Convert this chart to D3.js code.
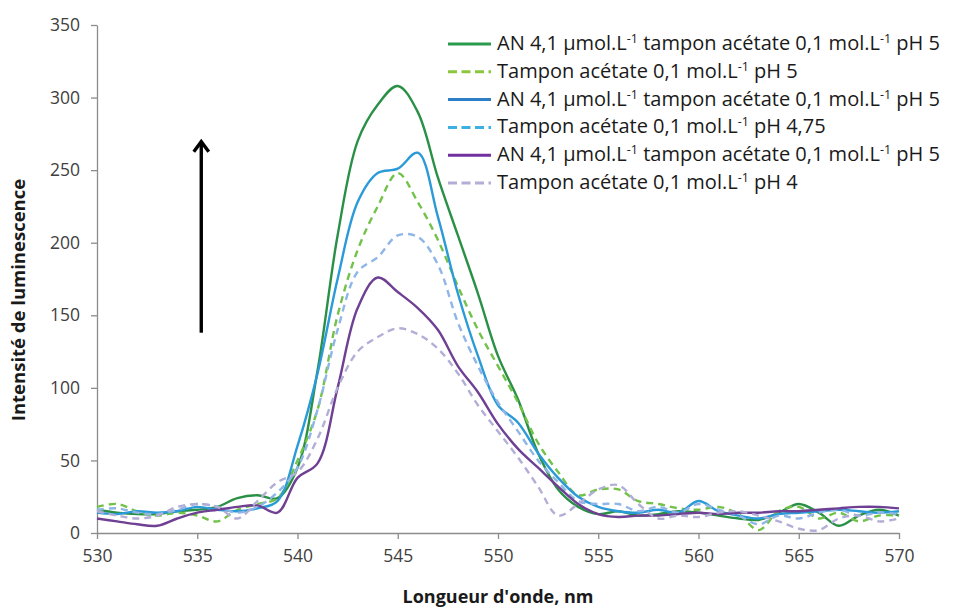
<!DOCTYPE html>
<html><head><meta charset="utf-8">
<script src="https://cdn.jsdelivr.net/npm/d3@7"></script>
<style>
body{margin:0;background:#fff;}
svg{display:block;}
</style></head>
<body>
<svg id="chart" width="964" height="608"></svg>
<script>
const wavelengths = d3.range(530, 571, 1);
const yTicks = [0, 50, 100, 150, 200, 250, 300, 350];
const xTicks = [530, 535, 540, 545, 550, 555, 560, 565, 570];

const anPH5 = [16,14,13,13,15,16,18,24,26,24, 45,112,205,270,295,308,290,245,205,165, 122,92,55,30,18,13,15,12,13,15, 14,12,10,9,14,20,14,5,12,16,12];
const bufPH5 = [18,20,15,12,14,12,8,16,20,24, 50,85,150,195,225,248,228,202,170,140, 115,90,62,42,26,30,30,22,20,17, 16,18,13,2,15,18,10,14,8,12,12];
const anPH475 = [14,13,15,14,15,18,16,15,17,22, 60,110,175,228,248,251,262,218,165,122, 88,76,55,38,25,18,15,14,16,14, 22,15,12,10,13,14,15,16,15,14,15];
const bufPH475 = [16,17,14,13,16,20,18,14,18,28, 45,85,140,180,190,205,204,185,145,115, 90,70,50,35,22,20,20,15,18,14, 20,16,12,6,12,10,14,16,12,14,13];
const anPH4 = [10,8,6,5,10,14,16,18,19,14, 38,48,100,155,176,166,155,140,115,97, 75,58,45,32,20,13,11,12,12,13, 14,13,14,14,15,15,16,17,18,18,17];
const bufPH4 = [15,12,10,12,18,20,18,10,22,35, 42,65,100,125,135,141,137,127,110,88, 70,52,32,12,20,30,33,20,10,12, 11,14,15,12,8,3,2,10,12,8,10];

const seriesNames = [
  "AN 4,1 µmol.L|-1| tampon acétate 0,1 mol.L|-1| pH 5",
  "Tampon acétate 0,1 mol.L|-1| pH 5",
  "AN 4,1 µmol.L|-1| tampon acétate 0,1 mol.L|-1| pH 5",
  "Tampon acétate 0,1 mol.L|-1| pH 4,75",
  "AN 4,1 µmol.L|-1| tampon acétate 0,1 mol.L|-1| pH 5",
  "Tampon acétate 0,1 mol.L|-1| pH 4"
];
const seriesValues = [anPH5, bufPH5, anPH475, bufPH475, anPH4, bufPH4];
const seriesColors = ["#2a9046", "#72c24a", "#2b9ad8", "#8fb6e6", "#6e3f93", "#b3aed6"];
const legendColors = ["#2a9a4c", "#8cc63f", "#2e7ec8", "#3cb0e0", "#7030a0", "#b3aed6"];
const seriesDashed = [false, true, false, true, false, true];

const arrowX = 535.2, arrowFrom = 138, arrowTo = 271;

(function () {
const svg = d3.select("#chart");
const mLeft = 97, mRight = 899, mTop = 25, mBottom = 533;
const x = d3.scaleLinear().domain([530, 570]).range([mLeft, mRight]);
const y = d3.scaleLinear().domain([0, 350]).range([mBottom, mTop]);
const font = "'Open Sans', sans-serif";
const axisColor = "#8c8c8c";

const yAxis = svg.append("g").attr("transform", `translate(${mLeft},0)`)
  .call(d3.axisLeft(y).tickValues(yTicks).tickSize(6).tickPadding(11).tickSizeOuter(0));
const xAxis = svg.append("g").attr("transform", `translate(0,${mBottom})`)
  .call(d3.axisBottom(x).tickValues(xTicks).tickSize(6).tickPadding(11).tickSizeOuter(0));
[yAxis, xAxis].forEach(g => {
  g.select(".domain").attr("stroke", axisColor).attr("stroke-width", 1.3);
  g.selectAll(".tick line").attr("stroke", axisColor).attr("stroke-width", 1.3);
  g.selectAll(".tick text").attr("fill", "#404040").style("font-family", font).style("font-size", "17.5px");
});

const line = d3.line().x((d, i) => x(wavelengths[i])).y(d => y(d)).curve(d3.curveCatmullRom.alpha(0.5));
const data = seriesValues.map((v, i) => ({v, color: seriesColors[i], lcolor: legendColors[i], dashed: seriesDashed[i], name: seriesNames[i]}));
svg.append("g").selectAll("path").data(data).join("path")
  .attr("d", d => line(d.v))
  .attr("fill", "none")
  .attr("stroke", d => d.color)
  .attr("stroke-width", 2.4)
  .attr("stroke-dasharray", d => d.dashed ? "7,5" : null)
  .attr("stroke-linejoin", "round");

// arrow
const ax = x(arrowX), tipY = y(arrowTo);
svg.append("line")
  .attr("x1", ax).attr("x2", ax)
  .attr("y1", y(arrowFrom)).attr("y2", tipY + 2)
  .attr("stroke", "#000").attr("stroke-width", 3.4);
svg.append("path")
  .attr("d", `M${ax - 7.5},${tipY + 12} L${ax},${tipY + 2} L${ax + 7.5},${tipY + 12}`)
  .attr("fill", "none").attr("stroke", "#000").attr("stroke-width", 3.4)
  .attr("stroke-linejoin", "miter");

svg.append("text").attr("transform", `translate(25,300) rotate(-90)`)
  .attr("text-anchor", "middle").style("font-family", font).style("font-size", "18.5px")
  .style("font-weight", "bold").attr("fill", "#1a1a1a").text("Intensité de luminescence");
svg.append("text").attr("x", 498).attr("y", 603)
  .attr("text-anchor", "middle").style("font-family", font).style("font-size", "18px")
  .style("font-weight", "bold").attr("fill", "#1a1a1a").text("Longueur d'onde, nm");

const leg = svg.append("g");
const rowY = i => 44 + i * 27.8;
data.forEach((d, i) => {
  leg.append("line").attr("x1", 448).attr("x2", 491).attr("y1", rowY(i)).attr("y2", rowY(i))
    .attr("stroke", d.lcolor).attr("stroke-width", 3)
    .attr("stroke-dasharray", d.dashed ? "9,4.5" : null);
  const t = leg.append("text").attr("x", 497).attr("y", rowY(i) + 6)
    .style("font-family", font).style("font-size", "20px").attr("fill", "#1a1a1a");
  let raise = false;
  d.name.split("|").forEach((part, k) => {
    if (part === "") return;
    if (k % 2 === 1) {
      t.append("tspan").attr("dy", -7).style("font-size", "12.5px").text(part);
      raise = true;
    } else {
      t.append("tspan").attr("dy", raise ? 7 : null).text(part);
      raise = false;
    }
  });
});
})();
</script>
</body></html>
